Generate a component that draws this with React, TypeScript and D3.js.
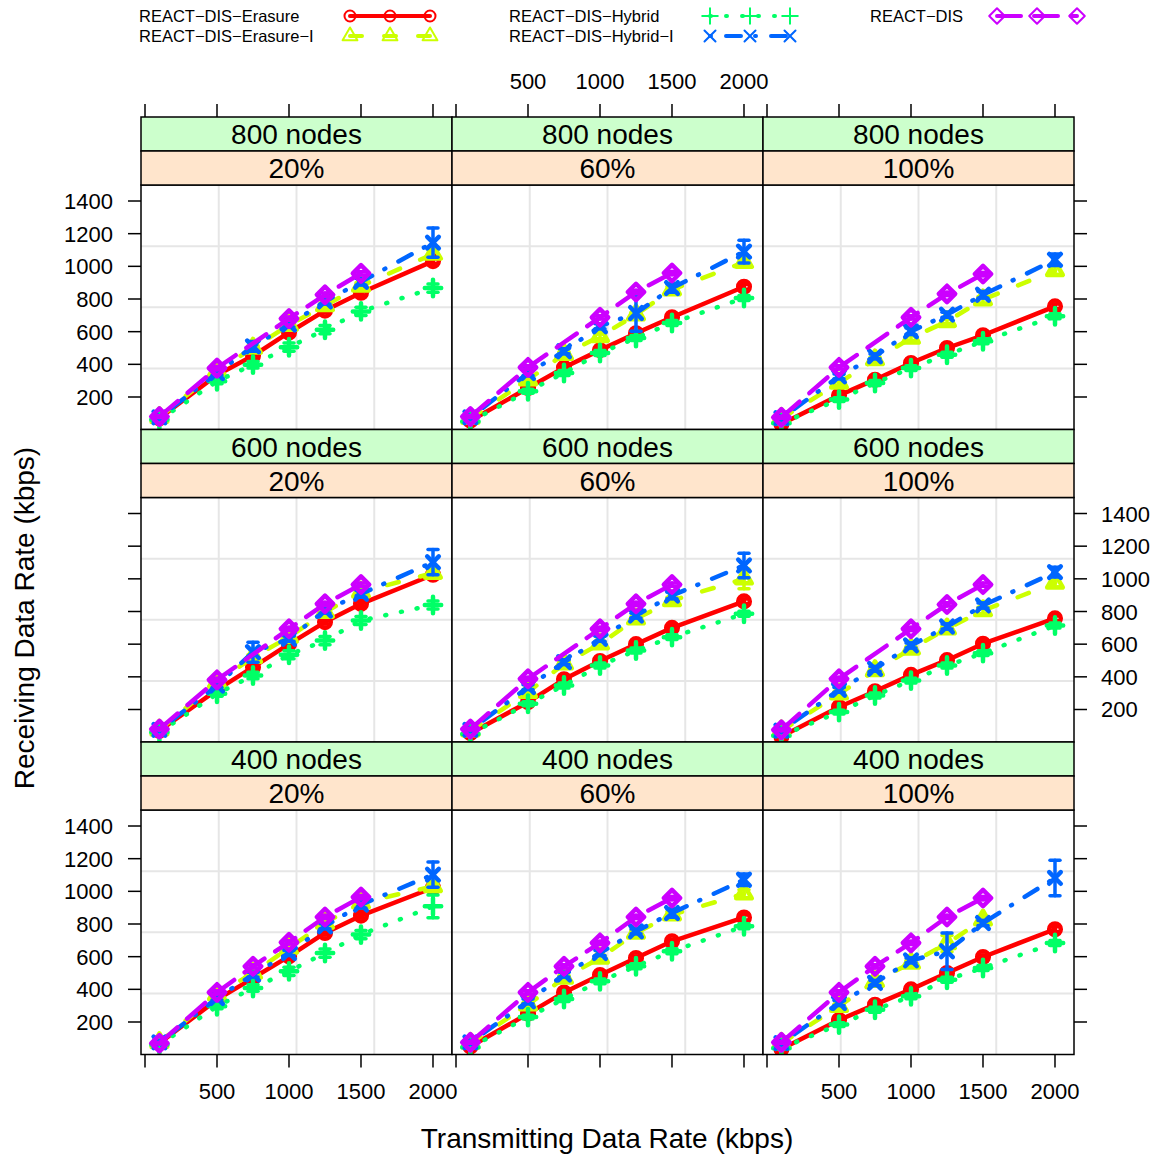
import React from "react";
import * as d3 from "d3";

// ---------- data ----------
const X_VALUES = [100, 500, 750, 1000, 1250, 1500, 2000];
const ROW_LABELS = ["800 nodes", "600 nodes", "400 nodes"];
const COL_LABELS = ["20%", "60%", "100%"];
const X_TICKS = [0, 500, 1000, 1500, 2000];
const X_TICK_LABELS = ["", "500", "1000", "1500", "2000"];
const Y_TICKS = [200, 400, 600, 800, 1000, 1200, 1400];

// panel order: 800 nodes (20%, 60%, 100%), 600 nodes (...), 400 nodes (...)
const erasure = [
  [70, 335, 452, 595, 729, 838, 1032],
  [55, 255, 380, 487, 590, 688, 875],
  [35, 210, 306, 408, 500, 578, 755],
  [70, 320, 459, 600, 735, 847, 1025],
  [55, 245, 385, 497, 600, 700, 862],
  [35, 215, 312, 412, 502, 603, 758],
  [70, 337, 469, 602, 745, 851, 1022],
  [50, 251, 381, 488, 592, 694, 840],
  [35, 212, 306, 400, 500, 598, 768],
];
const erasureErr = [
  [5, 10, 10, 12, 12, 15, 15],
  [5, 10, 10, 12, 12, 12, 15],
  [5, 10, 10, 10, 12, 12, 15],
  [5, 10, 10, 12, 12, 15, 15],
  [5, 10, 10, 12, 12, 12, 15],
  [5, 10, 10, 10, 12, 12, 15],
  [5, 10, 10, 12, 12, 15, 15],
  [5, 10, 10, 12, 12, 12, 15],
  [5, 10, 10, 10, 12, 12, 15],
];
const erasureI = [
  [75, 360, 500, 640, 760, 880, 1075],
  [70, 306, 462, 571, 704, 857, 1025],
  [70, 286, 429, 561, 663, 796, 975],
  [75, 367, 520, 643, 796, 920, 1035],
  [70, 306, 480, 602, 755, 867, 1000],
  [70, 296, 439, 571, 694, 806, 975],
  [75, 367, 500, 653, 806, 930, 1030],
  [70, 306, 469, 592, 745, 857, 985],
  [70, 296, 449, 561, 680, 826, null],
];
const erasureIErr = [
  [5, 12, 15, 15, 15, 20, 25],
  [5, 12, 15, 15, 15, 20, 25],
  [5, 12, 15, 15, 15, 20, 25],
  [5, 12, 15, 15, 15, 20, 25],
  [5, 12, 15, 15, 15, 20, 60],
  [5, 12, 15, 15, 15, 20, 25],
  [5, 12, 15, 15, 15, 20, 25],
  [5, 12, 15, 15, 15, 20, 25],
  [5, 12, 15, 15, 50, 20, 0],
];
const hybrid = [
  [60, 296, 398, 505, 612, 724, 867],
  [50, 235, 347, 469, 561, 653, 806],
  [40, 184, 286, 377, 459, 541, 694],
  [60, 296, 408, 535, 622, 745, 840],
  [50, 235, 347, 469, 561, 643, 786],
  [40, 184, 286, 377, 469, 545, 714],
  [60, 296, 408, 510, 622, 735, 908],
  [45, 230, 341, 449, 541, 633, 786],
  [40, 184, 275, 357, 459, 531, 684],
];
const hybridErr = [
  [5, 15, 20, 25, 25, 25, 25],
  [5, 12, 15, 15, 15, 15, 15],
  [5, 12, 15, 15, 15, 15, 15],
  [5, 15, 20, 25, 25, 25, 25],
  [5, 12, 15, 15, 15, 15, 15],
  [5, 12, 15, 15, 15, 15, 15],
  [5, 15, 20, 25, 25, 25, 70],
  [5, 12, 15, 15, 15, 15, 15],
  [5, 12, 15, 15, 15, 15, 15],
];
const hybridI = [
  [75, 347, 510, 643, 785, 905, 1145],
  [75, 347, 480, 633, 714, 867, 1090],
  [70, 326, 449, 602, 704, 826, 1040],
  [75, 347, 551, 633, 806, 908, 1102],
  [75, 337, 490, 633, 775, 898, 1082],
  [70, 320, 449, 592, 708, 837, 1041],
  [75, 347, 490, 622, 786, 918, 1102],
  [75, 326, 490, 622, 755, 867, 1071],
  [70, 316, 439, 577, 633, 806, 1082],
];
const hybridIErr = [
  [8, 12, 30, 15, 15, 20, 90],
  [8, 15, 15, 15, 112, 25, 70],
  [8, 15, 15, 20, 15, 20, 35],
  [8, 12, 61, 15, 15, 20, 77],
  [8, 15, 15, 15, 15, 20, 75],
  [8, 15, 15, 15, 15, 15, 30],
  [8, 12, 15, 15, 15, 20, 77],
  [8, 15, 15, 15, 15, 25, 35],
  [8, 15, 15, 15, 112, 15, 109],
];
const reactDis = [
  [80, 377, null, 680, 826, 957, null],
  [80, 381, null, 688, 843, 959, null],
  [75, 381, null, 688, 831, 953, null],
  [80, 381, null, 694, 847, 965, null],
  [80, 388, null, 694, 847, 965, null],
  [75, 388, null, 694, 843, 965, null],
  [70, 381, 541, 688, 843, 965, null],
  [75, 381, 541, 684, 843, 959, null],
  [75, 381, 541, 684, 843, 959, null],
];
const reactDisErr = [
  [5, 10, 0, 10, 10, 10, 0],
  [5, 10, 0, 10, 10, 10, 0],
  [5, 10, 0, 10, 10, 10, 0],
  [5, 10, 0, 10, 10, 10, 0],
  [5, 10, 0, 10, 10, 10, 0],
  [5, 10, 0, 10, 10, 10, 0],
  [5, 10, 10, 10, 10, 10, 0],
  [5, 10, 10, 10, 10, 10, 0],
  [5, 10, 10, 10, 10, 10, 0],
];

const SERIES_NAMES = [
  "REACT−DIS−Erasure",
  "REACT−DIS−Erasure−I",
  "REACT−DIS−Hybrid",
  "REACT−DIS−Hybrid−I",
  "REACT−DIS",
];
const SERIES_COLORS = ["#FF0000", "#CCFF00", "#00FF66", "#0066FF", "#CC00FF"];
const SERIES_DASH = [null, "12 22", "1 15", "1 15 15 14", "24 13"];
const SERIES_SHAPES = ["circle", "triangle", "plus", "x", "diamond"];
const SERIES_VALUES = [erasure, erasureI, hybrid, hybridI, reactDis];
const SERIES_ERRS = [erasureErr, erasureIErr, hybridErr, hybridIErr, reactDisErr];

// ---------- layout ----------
const FONT = "'Liberation Sans', Arial, Helvetica, sans-serif";
const COL_LEFT = [141, 452, 763];
const PANEL_W = 311;
const ROW_TOP = [117, 429.5, 742];
const STRIP_H = 34;
const PANEL_H = 244.5;
const TICK = 13;
const X_DOMAIN = [-27.8, 2132];
const Y_DOMAIN = [1, 1498];

const R = 5.8;
function shapePath(shape: string, k = 1): string | null {
  const r = R * k;
  if (shape === "triangle") {
    const top = 1.5551 * r, half = 1.3468 * r, base = 0.7776 * r;
    return `M0,${-top}L${half},${base}L${-half},${base}Z`;
  }
  if (shape === "plus") {
    const a = 1.4142 * r;
    return `M${-a},0H${a}M0,${-a}V${a}`;
  }
  if (shape === "x") {
    return `M${-r},${-r}L${r},${r}M${-r},${r}L${r},${-r}`;
  }
  if (shape === "diamond") {
    const a = 1.4142 * r;
    return `M0,${-a}L${a},0L0,${a}L${-a},0Z`;
  }
  return null;
}

function Marker({ shape, x, y, color, sw, k = 1 }: any) {
  if (shape === "circle") {
    return <circle cx={x} cy={y} r={R * k} fill="none" stroke={color} strokeWidth={sw} />;
  }
  return (
    <path
      d={shapePath(shape, k) as string}
      transform={`translate(${x},${y})`}
      fill="none"
      stroke={color}
      strokeWidth={sw}
      strokeLinejoin="round"
      strokeLinecap="round"
    />
  );
}

function Panel({ row, col }: { row: number; col: number }) {
  const left = COL_LEFT[col];
  const top = ROW_TOP[row] + 2 * STRIP_H;
  const bottom = top + PANEL_H;
  const x = d3.scaleLinear().domain(X_DOMAIN).range([left, left + PANEL_W]);
  const y = d3.scaleLinear().domain(Y_DOMAIN).range([bottom, top]);
  const idx = row * 3 + col;
  const gridX = [1, 2, 3].map((i) => left + (PANEL_W * i) / 4);
  const gridY = [1, 2, 3].map((i) => top + (PANEL_H * i) / 4);
  const clipId = `clip-${row}-${col}`;

  return (
    <g>
      <defs>
        <clipPath id={clipId}>
          <rect x={left} y={top} width={PANEL_W} height={PANEL_H} />
        </clipPath>
      </defs>
      <rect x={left} y={top} width={PANEL_W} height={PANEL_H} fill="#FFFFFF" />
      {gridX.map((gx, i) => (
        <line key={"gx" + i} x1={gx} x2={gx} y1={top} y2={bottom} stroke="#E6E6E6" strokeWidth={2} />
      ))}
      {gridY.map((gy, i) => (
        <line key={"gy" + i} x1={left} x2={left + PANEL_W} y1={gy} y2={gy} stroke="#E6E6E6" strokeWidth={2} />
      ))}
      <g clipPath={`url(#${clipId})`}>
        {SERIES_VALUES.map((vals, s) => {
          const pts = X_VALUES.map((xv, i) => ({ xv, v: vals[idx][i], e: SERIES_ERRS[s][idx][i] })).filter(
            (p) => p.v !== null && p.v !== undefined
          ) as { xv: number; v: number; e: number }[];
          const line = d3
            .line<{ xv: number; v: number }>()
            .x((p) => x(p.xv))
            .y((p) => y(p.v));
          const color = SERIES_COLORS[s];
          return (
            <g key={"s" + s}>
              <path
                d={line(pts) as string}
                fill="none"
                stroke={color}
                strokeWidth={4.5}
                strokeLinecap="round"
                strokeLinejoin="round"
                strokeDasharray={SERIES_DASH[s] || undefined}
              />
              {pts.map((p, i) =>
                p.e > 0 ? (
                  <g key={"e" + i} stroke={color} strokeWidth={3.5} strokeLinecap="round">
                    <line x1={x(p.xv)} x2={x(p.xv)} y1={y(p.v - p.e)} y2={y(p.v + p.e)} />
                    <line x1={x(p.xv) - 5} x2={x(p.xv) + 5} y1={y(p.v - p.e)} y2={y(p.v - p.e)} />
                    <line x1={x(p.xv) - 5} x2={x(p.xv) + 5} y1={y(p.v + p.e)} y2={y(p.v + p.e)} />
                  </g>
                ) : null
              )}
              {pts.map((p, i) => (
                <Marker key={"m" + i} shape={SERIES_SHAPES[s]} x={x(p.xv)} y={y(p.v)} color={color} sw={4.5} />
              ))}
            </g>
          );
        })}
      </g>
      <rect x={left} y={top} width={PANEL_W} height={PANEL_H} fill="none" stroke="#000" strokeWidth={1.5} />

      {/* strips */}
      <rect x={left} y={ROW_TOP[row]} width={PANEL_W} height={STRIP_H} fill="#CCFFCC" stroke="#000" strokeWidth={1.5} />
      <text x={left + PANEL_W / 2} y={ROW_TOP[row] + 27} textAnchor="middle" fontSize={28} fontFamily={FONT}>
        {ROW_LABELS[row]}
      </text>
      <rect x={left} y={ROW_TOP[row] + STRIP_H} width={PANEL_W} height={STRIP_H} fill="#FFE5CC" stroke="#000" strokeWidth={1.5} />
      <text x={left + PANEL_W / 2} y={ROW_TOP[row] + STRIP_H + 27} textAnchor="middle" fontSize={28} fontFamily={FONT}>
        {COL_LABELS[col]}
      </text>

      {/* x axis: top of first row, bottom of last row */}
      {row === 0 &&
        X_TICKS.map((t, i) => (
          <g key={"tx" + i}>
            <line x1={x(t)} x2={x(t)} y1={ROW_TOP[0]} y2={ROW_TOP[0] - TICK} stroke="#000" strokeWidth={1.5} />
            {col === 1 && (
              <text x={x(t)} y={ROW_TOP[0] - 28} textAnchor="middle" fontSize={22} fontFamily={FONT}>
                {X_TICK_LABELS[i]}
              </text>
            )}
          </g>
        ))}
      {row === 2 &&
        X_TICKS.map((t, i) => (
          <g key={"bx" + i}>
            <line x1={x(t)} x2={x(t)} y1={bottom} y2={bottom + TICK} stroke="#000" strokeWidth={1.5} />
            {col !== 1 && (
              <text x={x(t)} y={bottom + 44} textAnchor="middle" fontSize={22} fontFamily={FONT}>
                {X_TICK_LABELS[i]}
              </text>
            )}
          </g>
        ))}
      {/* y axis: left of first column, right of last column */}
      {col === 0 &&
        Y_TICKS.map((t, i) => (
          <g key={"ly" + i}>
            <line x1={left} x2={left - TICK} y1={y(t)} y2={y(t)} stroke="#000" strokeWidth={1.5} />
            {row !== 1 && (
              <text x={left - 28} y={y(t) + 8} textAnchor="end" fontSize={22} fontFamily={FONT}>
                {t}
              </text>
            )}
          </g>
        ))}
      {col === 2 &&
        Y_TICKS.map((t, i) => (
          <g key={"ry" + i}>
            <line x1={left + PANEL_W} x2={left + PANEL_W + TICK} y1={y(t)} y2={y(t)} stroke="#000" strokeWidth={1.5} />
            {row === 1 && (
              <text x={left + PANEL_W + 27} y={y(t) + 8} textAnchor="start" fontSize={22} fontFamily={FONT}>
                {t}
              </text>
            )}
          </g>
        ))}
    </g>
  );
}

const LEGEND_POS = [
  { tx: 139, x0: 350, y: 16 },
  { tx: 139, x0: 350, y: 36 },
  { tx: 509, x0: 710, y: 16 },
  { tx: 509, x0: 710, y: 36 },
  { tx: 870, x0: 997, y: 16 },
];

function Legend() {
  return (
    <g>
      {SERIES_NAMES.map((name, s) => {
        const p = LEGEND_POS[s];
        const color = SERIES_COLORS[s];
        const xs = [p.x0, p.x0 + 40, p.x0 + 80];
        return (
          <g key={"lg" + s}>
            <text x={p.tx} y={p.y + 6} fontSize={16.5} fontFamily={FONT}>
              {name}
            </text>
            <line
              x1={xs[0]}
              x2={xs[2]}
              y1={p.y}
              y2={p.y}
              stroke={color}
              strokeWidth={4}
              strokeLinecap="round"
              strokeDasharray={SERIES_DASH[s] || undefined}
            />
            {xs.map((mx, i) => (
              <Marker key={i} shape={SERIES_SHAPES[s]} x={mx} y={p.y} color={color} sw={2} k={0.95} />
            ))}
          </g>
        );
      })}
    </g>
  );
}

export default function App() {
  const W = 1158;
  const H = 1155;
  return (
    <svg
      width={W}
      height={H}
      viewBox={`0 0 ${W} ${H}`}
      style={{ position: "absolute", left: 0, top: 0, background: "#FFFFFF" }}
    >
      <rect x={0} y={0} width={W} height={H} fill="#FFFFFF" />
      <Legend />
      {[0, 1, 2].map((row) => [0, 1, 2].map((col) => <Panel key={`${row}-${col}`} row={row} col={col} />))}
      <text x={607} y={1148} textAnchor="middle" fontSize={28} fontFamily={FONT}>
        Transmitting Data Rate (kbps)
      </text>
      <text
        transform="translate(34,618) rotate(-90)"
        textAnchor="middle"
        fontSize={28}
        fontFamily={FONT}
      >
        Receiving Data Rate (kbps)
      </text>
    </svg>
  );
}
